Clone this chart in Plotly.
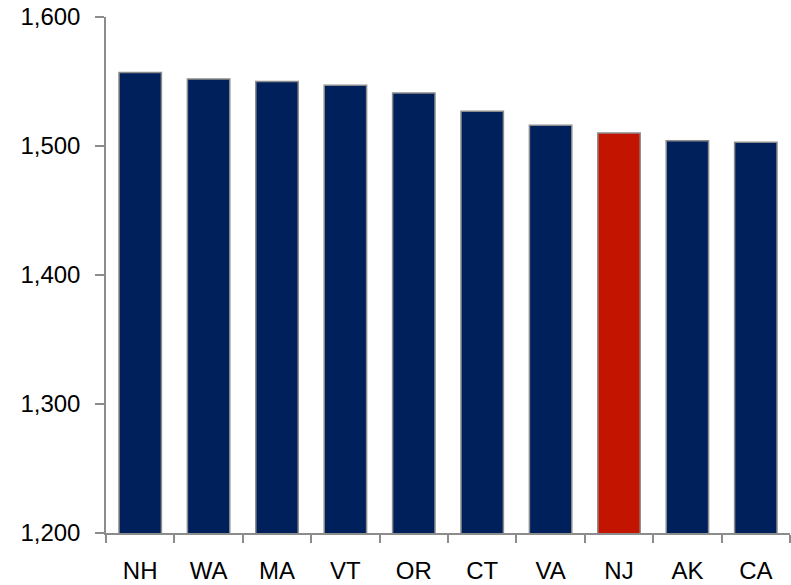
import plotly.graph_objects as go

states = ["NH", "WA", "MA", "VT", "OR", "CT", "VA", "NJ", "AK", "CA"]
scores = [1557, 1552, 1550, 1547, 1541, 1527, 1516, 1510, 1504, 1503]
highlight = "NJ"

y_ticks = [1200, 1300, 1400, 1500, 1600]

navy = "#00205B"
red = "#C31400"
colors = [red if s == highlight else navy for s in states]

fig = go.Figure(go.Bar(
    x=states, y=scores,
    marker=dict(color=colors, line=dict(color="#8c8c8c", width=1.5)),
    width=0.62,
))

fig.update_layout(
    width=791, height=585,
    margin=dict(l=106, r=1, t=17, b=52),
    plot_bgcolor="white", paper_bgcolor="white",
    showlegend=False,
    font=dict(family="Liberation Sans, Arial, sans-serif", size=24, color="black"),
)
fig.update_xaxes(
    showline=True, linecolor="#8c8c8c", linewidth=1.5,
    ticks="outside", tickson="boundaries", ticklen=8, tickcolor="#8c8c8c", tickwidth=1.5,
    showgrid=False, ticklabelstandoff=15,
)
fig.update_yaxes(
    range=[1200, 1600], tickvals=y_ticks, tickformat=",",
    showline=True, linecolor="#8c8c8c", linewidth=1.5,
    ticks="outside", ticklen=9, tickcolor="#8c8c8c", tickwidth=1.5,
    showgrid=False, zeroline=False, ticklabelstandoff=10,
)

# drop the default 8px body margin so the figure sits at the page corner
fig.write_html(
    "out.html",
    config={"displayModeBar": False},
    post_script="document.body.style.margin = '0';",
)
